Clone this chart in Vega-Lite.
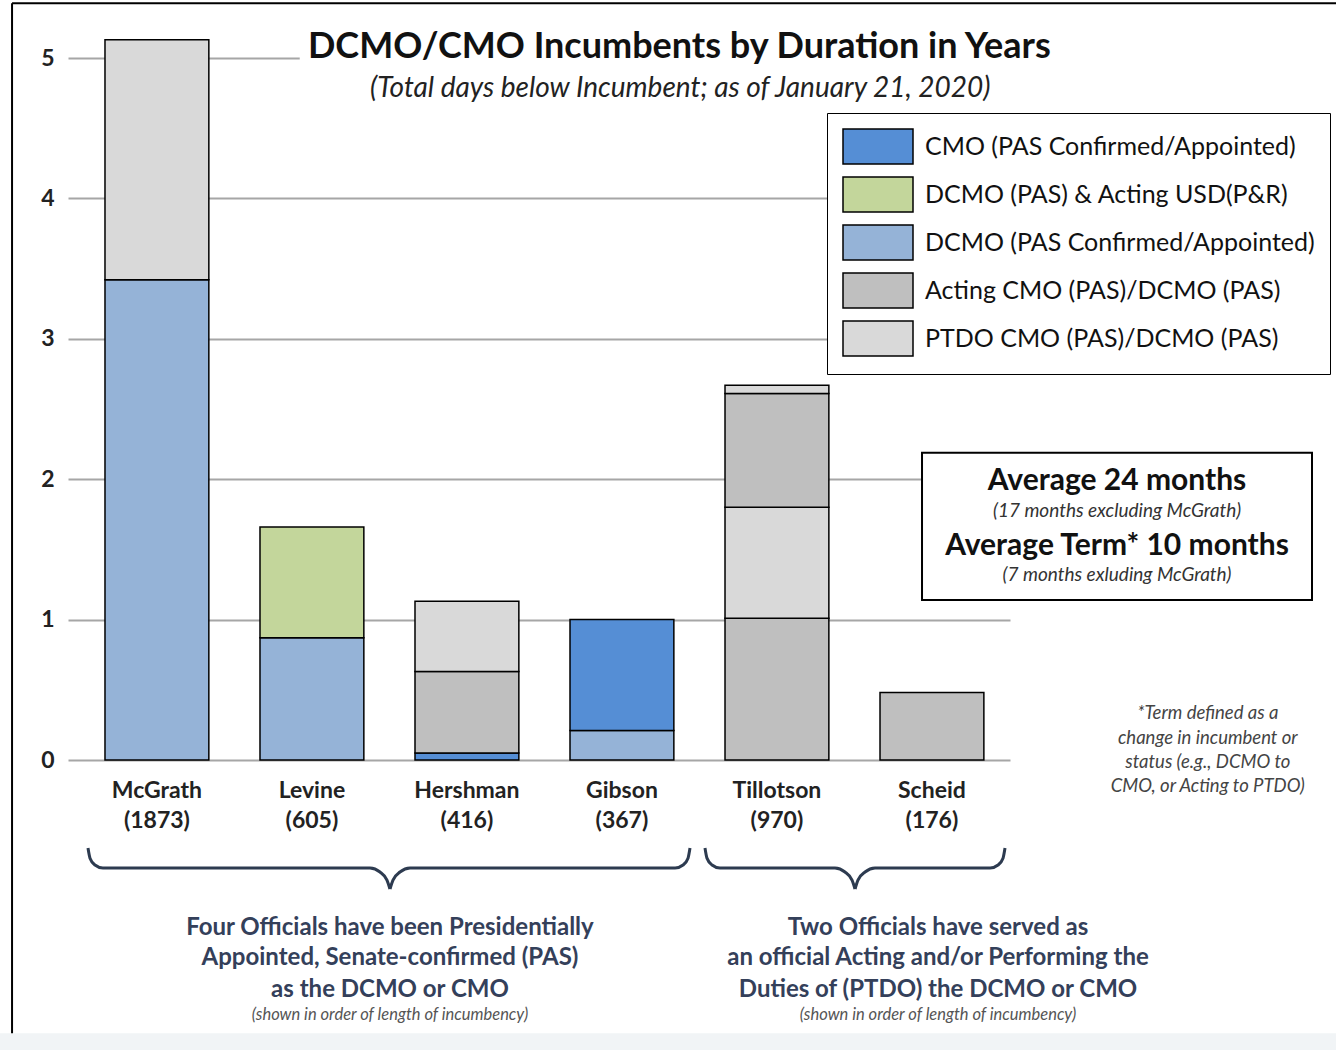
{
  "$schema": "https://vega.github.io/schema/vega-lite/v6.json",
  "width": 942,
  "height": 702,
  "autosize": "none",
  "padding": {"left": 68, "top": 58, "right": 326, "bottom": 290},
  "background": "white",
  "config": {"view": {"stroke": null}, "font": "Lato"},
  "datasets": {
    "bars": [
      {"official": "McGrath (1873)", "role": "DCMO (PAS Confirmed/Appointed)", "seq": 1, "years": 3.42},
      {"official": "McGrath (1873)", "role": "PTDO CMO (PAS)/DCMO (PAS)", "seq": 2, "years": 1.71},
      {"official": "Levine (605)", "role": "DCMO (PAS Confirmed/Appointed)", "seq": 1, "years": 0.87},
      {"official": "Levine (605)", "role": "DCMO (PAS) & Acting USD(P&R)", "seq": 2, "years": 0.79},
      {"official": "Hershman (416)", "role": "CMO (PAS Confirmed/Appointed)", "seq": 1, "years": 0.05},
      {"official": "Hershman (416)", "role": "Acting CMO (PAS)/DCMO (PAS)", "seq": 2, "years": 0.58},
      {"official": "Hershman (416)", "role": "PTDO CMO (PAS)/DCMO (PAS)", "seq": 3, "years": 0.5},
      {"official": "Gibson (367)", "role": "DCMO (PAS Confirmed/Appointed)", "seq": 1, "years": 0.21},
      {"official": "Gibson (367)", "role": "CMO (PAS Confirmed/Appointed)", "seq": 2, "years": 0.79},
      {"official": "Tillotson (970)", "role": "Acting CMO (PAS)/DCMO (PAS)", "seq": 1, "years": 1.01},
      {"official": "Tillotson (970)", "role": "PTDO CMO (PAS)/DCMO (PAS)", "seq": 2, "years": 0.79},
      {"official": "Tillotson (970)", "role": "Acting CMO (PAS)/DCMO (PAS)", "seq": 3, "years": 0.81},
      {"official": "Tillotson (970)", "role": "PTDO CMO (PAS)/DCMO (PAS)", "seq": 4, "years": 0.06},
      {"official": "Scheid (176)", "role": "Acting CMO (PAS)/DCMO (PAS)", "seq": 1, "years": 0.48}
    ],
    "boxes": [
      {"kind": "titlecover", "x1": 24.6, "x2": 105.3, "y1": 5.24, "y2": 4.67},
      {"kind": "textbox", "x1": 90.66, "x2": 132.06, "y1": 2.188, "y2": 1.14},
      {"kind": "strip", "x1": -8, "x2": 142, "y1": -1.946, "y2": -2.2}
    ],
    "frame": [
      {"side": "left", "x1": -5.94, "x2": -5.94, "y1": 5.39, "y2": -1.946},
      {"side": "top", "x1": -5.94, "x2": 142, "y1": 5.39, "y2": 5.39}
    ],
    "texts": [
      {"role": "title", "x": 64.9, "y": 5.075, "text": "DCMO/CMO Incumbents by Duration in Years"},
      {"role": "subtitle", "x": 65.0, "y": 4.78, "text": "(Total days below Incumbent; as of January 21, 2020)"},
      {"role": "boxbig", "x": 111.36, "y": 1.989, "text": "Average 24 months"},
      {"role": "boxsmall", "x": 111.36, "y": 1.775, "text": "(17 months excluding McGrath)"},
      {"role": "boxbig", "x": 111.36, "y": 1.525, "text": "Average Term* 10 months"},
      {"role": "boxsmall", "x": 111.36, "y": 1.319, "text": "(7 months exluding McGrath)"},
      {"role": "footnote", "x": 121.0, "y": 0.335, "text": "*Term defined as a"},
      {"role": "footnote", "x": 121.0, "y": 0.157, "text": "change in incumbent or"},
      {"role": "footnote", "x": 121.0, "y": -0.014, "text": "status (e.g., DCMO to"},
      {"role": "footnote", "x": 121.0, "y": -0.185, "text": "CMO, or Acting to PTDO)"},
      {"role": "bottom", "x": 34.18, "y": -1.197, "text": "Four Officials have been Presidentially"},
      {"role": "bottom", "x": 34.18, "y": -1.411, "text": "Appointed, Senate-confirmed (PAS)"},
      {"role": "bottom", "x": 34.18, "y": -1.639, "text": "as the DCMO or CMO"},
      {"role": "bottomsmall", "x": 34.18, "y": -1.818, "text": "(shown in order of length of incumbency)"},
      {"role": "bottom", "x": 92.36, "y": -1.197, "text": "Two Officials have served as"},
      {"role": "bottom", "x": 92.36, "y": -1.411, "text": "an official Acting and/or Performing the"},
      {"role": "bottom", "x": 92.36, "y": -1.639, "text": "Duties of (PTDO) the DCMO or CMO"},
      {"role": "bottomsmall", "x": 92.36, "y": -1.818, "text": "(shown in order of length of incumbency)"}
    ],
    "braces": [
      {"seg": "L1", "x": 2.123, "y": -0.627}, {"seg": "L1", "x": 2.335, "y": -0.699}, {"seg": "L1", "x": 2.866, "y": -0.748}, {"seg": "L1", "x": 3.715, "y": -0.77}, {"seg": "L1", "x": 32.06, "y": -0.77}, {"seg": "L1", "x": 33.12, "y": -0.798}, {"seg": "L1", "x": 33.86, "y": -0.855}, {"seg": "L1", "x": 34.18, "y": -0.919},
      {"seg": "L2", "x": 34.18, "y": -0.919}, {"seg": "L2", "x": 34.5, "y": -0.855}, {"seg": "L2", "x": 35.24, "y": -0.798}, {"seg": "L2", "x": 36.31, "y": -0.77}, {"seg": "L2", "x": 64.44, "y": -0.77}, {"seg": "L2", "x": 65.29, "y": -0.748}, {"seg": "L2", "x": 65.82, "y": -0.699}, {"seg": "L2", "x": 66.03, "y": -0.627},
      {"seg": "R1", "x": 67.62, "y": -0.627}, {"seg": "R1", "x": 67.83, "y": -0.699}, {"seg": "R1", "x": 68.37, "y": -0.748}, {"seg": "R1", "x": 69.21, "y": -0.77}, {"seg": "R1", "x": 81.42, "y": -0.77}, {"seg": "R1", "x": 82.48, "y": -0.798}, {"seg": "R1", "x": 83.23, "y": -0.855}, {"seg": "R1", "x": 83.55, "y": -0.919},
      {"seg": "R2", "x": 83.55, "y": -0.919}, {"seg": "R2", "x": 83.86, "y": -0.855}, {"seg": "R2", "x": 84.61, "y": -0.798}, {"seg": "R2", "x": 85.67, "y": -0.77}, {"seg": "R2", "x": 97.88, "y": -0.77}, {"seg": "R2", "x": 98.73, "y": -0.748}, {"seg": "R2", "x": 99.26, "y": -0.699}, {"seg": "R2", "x": 99.47, "y": -0.627}
    ]
  },
  "resolve": {"scale": {"x": "independent", "y": "independent"}, "axis": {"x": "independent", "y": "independent"}},
  "layer": [
    {
      "data": {"name": "boxes"},
      "transform": [{"filter": "datum.kind == 'strip'"}],
      "mark": {"type": "rect", "fill": "#f1f4f6"},
      "encoding": {
        "x": {"field": "x1", "type": "quantitative", "scale": {"domain": [0, 100], "nice": false, "zero": false}, "axis": null},
        "x2": {"field": "x2"},
        "y": {"field": "y1", "type": "quantitative", "scale": {"domain": [0, 5], "nice": false, "zero": false}, "axis": null},
        "y2": {"field": "y2"}
      }
    },
    {
      "data": {"name": "frame"},
      "mark": {"type": "rule", "color": "black", "strokeWidth": 2},
      "encoding": {
        "x": {"field": "x1", "type": "quantitative", "scale": {"domain": [0, 100], "nice": false, "zero": false}, "axis": null},
        "x2": {"field": "x2"},
        "y": {"field": "y1", "type": "quantitative", "scale": {"domain": [0, 5], "nice": false, "zero": false}, "axis": null},
        "y2": {"field": "y2"}
      }
    },
    {
      "data": {"name": "bars"},
      "mark": {"type": "bar", "stroke": "black", "strokeWidth": 1.5},
      "encoding": {
        "x": {
          "field": "official", "type": "nominal", "sort": null,
          "scale": {"paddingInner": 0.33, "paddingOuter": 0.2036, "align": 0.586},
          "axis": {"title": null, "domain": false, "ticks": false, "labelAngle": 0, "labelExpr": "split(datum.label, ' ')", "labelFont": "Lato", "labelFontSize": 23, "labelFontWeight": "bold", "labelColor": "#222222", "labelLineHeight": 30, "labelPadding": 19}
        },
        "y": {
          "field": "years", "type": "quantitative", "stack": "zero",
          "scale": {"domain": [0, 5], "nice": false, "zero": false},
          "axis": {"values": [0, 1, 2, 3, 4, 5], "title": null, "grid": true, "gridColor": "#a6a6a6", "gridWidth": 2, "domain": false, "ticks": false, "labelFont": "Lato", "labelFontSize": 23, "labelFontWeight": "bold", "labelColor": "#222222", "labelPadding": 14}
        },
        "color": {
          "field": "role", "type": "nominal",
          "scale": {
            "domain": ["CMO (PAS Confirmed/Appointed)", "DCMO (PAS) & Acting USD(P&R)", "DCMO (PAS Confirmed/Appointed)", "Acting CMO (PAS)/DCMO (PAS)", "PTDO CMO (PAS)/DCMO (PAS)"],
            "range": ["#558ed5", "#c3d69b", "#95b3d7", "#bfbfbf", "#d9d9d9"]
          },
          "legend": {
            "title": null, "orient": "none", "legendX": 759, "legendY": 55, "direction": "vertical",
            "fillColor": "white", "strokeColor": "black", "padding": 15,
            "symbolType": "M-1,-1H3V1H-1Z", "symbolSize": 1225, "symbolStrokeColor": "black", "symbolStrokeWidth": 1.5, "symbolOpacity": 1,
            "labelFont": "Lato", "labelFontSize": 25, "labelColor": "#111111", "labelLimit": 600, "labelOffset": 46, "rowPadding": 7
          }
        },
        "order": {"field": "seq", "type": "quantitative"}
      }
    },
    {
      "data": {"name": "boxes"},
      "transform": [{"filter": "datum.kind == 'titlecover'"}],
      "mark": {"type": "rect", "fill": "white"},
      "encoding": {
        "x": {"field": "x1", "type": "quantitative", "scale": {"domain": [0, 100], "nice": false, "zero": false}, "axis": null},
        "x2": {"field": "x2"},
        "y": {"field": "y1", "type": "quantitative", "scale": {"domain": [0, 5], "nice": false, "zero": false}, "axis": null},
        "y2": {"field": "y2"}
      }
    },
    {
      "data": {"name": "boxes"},
      "transform": [{"filter": "datum.kind == 'textbox'"}],
      "mark": {"type": "rect", "fill": "white", "stroke": "black", "strokeWidth": 2},
      "encoding": {
        "x": {"field": "x1", "type": "quantitative", "scale": {"domain": [0, 100], "nice": false, "zero": false}, "axis": null},
        "x2": {"field": "x2"},
        "y": {"field": "y1", "type": "quantitative", "scale": {"domain": [0, 5], "nice": false, "zero": false}, "axis": null},
        "y2": {"field": "y2"}
      }
    },
    {
      "data": {"name": "braces"},
      "mark": {"type": "line", "interpolate": "monotone", "strokeWidth": 3, "color": "#2d3b50"},
      "encoding": {
        "x": {"field": "x", "type": "quantitative", "scale": {"domain": [0, 100], "nice": false, "zero": false}, "axis": null},
        "y": {"field": "y", "type": "quantitative", "scale": {"domain": [0, 5], "nice": false, "zero": false}, "axis": null},
        "detail": {"field": "seg", "type": "nominal"}
      }
    },
    {
      "data": {"name": "texts"},
      "transform": [{"filter": "datum.role == 'title'"}],
      "mark": {"type": "text", "font": "Lato", "fontSize": 36, "fontWeight": "bold", "color": "#111111", "align": "center", "baseline": "middle"},
      "encoding": {
        "x": {"field": "x", "type": "quantitative", "scale": {"domain": [0, 100], "nice": false, "zero": false}, "axis": null},
        "y": {"field": "y", "type": "quantitative", "scale": {"domain": [0, 5], "nice": false, "zero": false}, "axis": null},
        "text": {"field": "text"}
      }
    },
    {
      "data": {"name": "texts"},
      "transform": [{"filter": "datum.role == 'subtitle'"}],
      "mark": {"type": "text", "font": "Lato", "fontSize": 28, "fontStyle": "italic", "color": "#222222", "align": "center", "baseline": "middle"},
      "encoding": {
        "x": {"field": "x", "type": "quantitative", "scale": {"domain": [0, 100], "nice": false, "zero": false}, "axis": null},
        "y": {"field": "y", "type": "quantitative", "scale": {"domain": [0, 5], "nice": false, "zero": false}, "axis": null},
        "text": {"field": "text"}
      }
    },
    {
      "data": {"name": "texts"},
      "transform": [{"filter": "datum.role == 'boxbig'"}],
      "mark": {"type": "text", "font": "Lato", "fontSize": 30, "fontWeight": "bold", "color": "#111111", "align": "center", "baseline": "middle"},
      "encoding": {
        "x": {"field": "x", "type": "quantitative", "scale": {"domain": [0, 100], "nice": false, "zero": false}, "axis": null},
        "y": {"field": "y", "type": "quantitative", "scale": {"domain": [0, 5], "nice": false, "zero": false}, "axis": null},
        "text": {"field": "text"}
      }
    },
    {
      "data": {"name": "texts"},
      "transform": [{"filter": "datum.role == 'boxsmall'"}],
      "mark": {"type": "text", "font": "Lato", "fontSize": 19, "fontStyle": "italic", "color": "#333333", "align": "center", "baseline": "middle"},
      "encoding": {
        "x": {"field": "x", "type": "quantitative", "scale": {"domain": [0, 100], "nice": false, "zero": false}, "axis": null},
        "y": {"field": "y", "type": "quantitative", "scale": {"domain": [0, 5], "nice": false, "zero": false}, "axis": null},
        "text": {"field": "text"}
      }
    },
    {
      "data": {"name": "texts"},
      "transform": [{"filter": "datum.role == 'footnote'"}],
      "mark": {"type": "text", "font": "Lato", "fontSize": 18.5, "fontStyle": "italic", "color": "#444444", "align": "center", "baseline": "middle"},
      "encoding": {
        "x": {"field": "x", "type": "quantitative", "scale": {"domain": [0, 100], "nice": false, "zero": false}, "axis": null},
        "y": {"field": "y", "type": "quantitative", "scale": {"domain": [0, 5], "nice": false, "zero": false}, "axis": null},
        "text": {"field": "text"}
      }
    },
    {
      "data": {"name": "texts"},
      "transform": [{"filter": "datum.role == 'bottom'"}],
      "mark": {"type": "text", "font": "Lato", "fontSize": 24, "fontWeight": "bold", "color": "#34405a", "align": "center", "baseline": "middle"},
      "encoding": {
        "x": {"field": "x", "type": "quantitative", "scale": {"domain": [0, 100], "nice": false, "zero": false}, "axis": null},
        "y": {"field": "y", "type": "quantitative", "scale": {"domain": [0, 5], "nice": false, "zero": false}, "axis": null},
        "text": {"field": "text"}
      }
    },
    {
      "data": {"name": "texts"},
      "transform": [{"filter": "datum.role == 'bottomsmall'"}],
      "mark": {"type": "text", "font": "Lato", "fontSize": 16.5, "fontStyle": "italic", "color": "#555555", "align": "center", "baseline": "middle"},
      "encoding": {
        "x": {"field": "x", "type": "quantitative", "scale": {"domain": [0, 100], "nice": false, "zero": false}, "axis": null},
        "y": {"field": "y", "type": "quantitative", "scale": {"domain": [0, 5], "nice": false, "zero": false}, "axis": null},
        "text": {"field": "text"}
      }
    }
  ]
}
